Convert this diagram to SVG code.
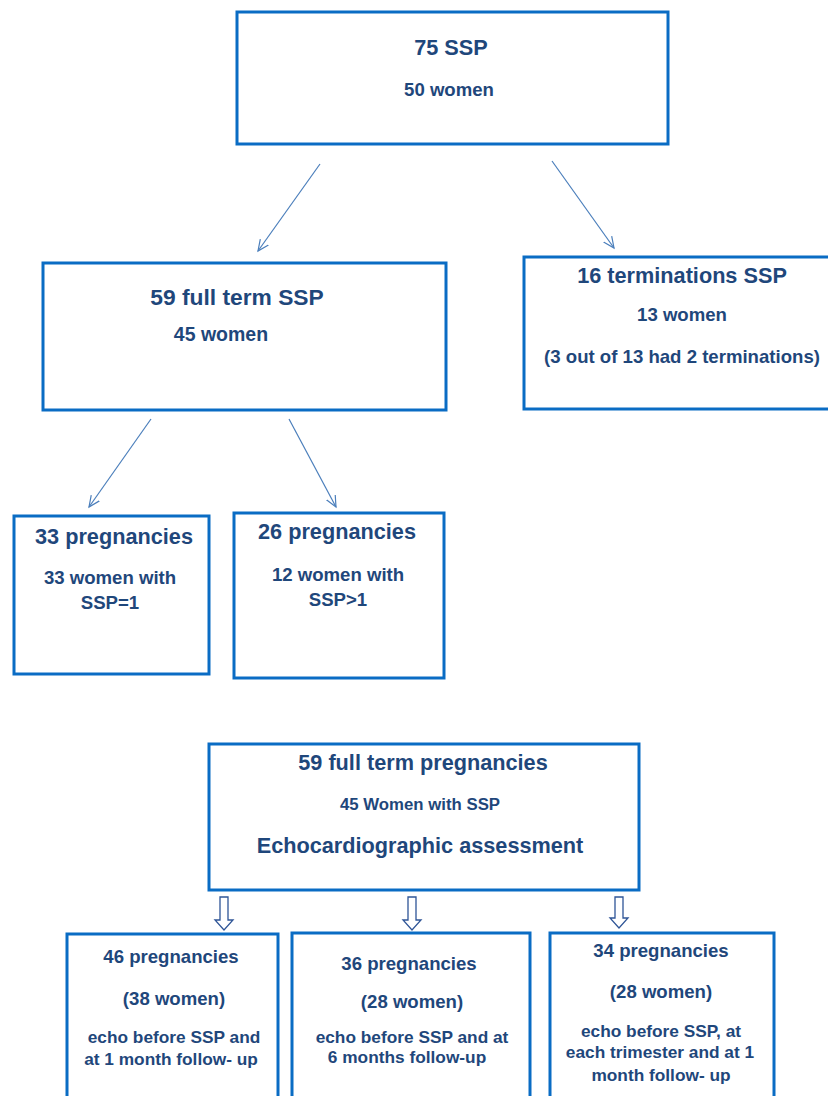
<svg xmlns="http://www.w3.org/2000/svg" width="828" height="1096" viewBox="0 0 828 1096">
<defs>
<style>
.box{fill:#ffffff;stroke:#0A6CC4;stroke-width:3}
.t{font-family:"Liberation Sans",Arial,sans-serif;font-weight:bold;fill:#1F477B;text-anchor:middle}
.h{font-size:21.7px}
.s{font-size:18.6px}
.b{font-size:17.3px}
.s2{font-size:16.8px}
.conn{stroke:#4A7EBB;stroke-width:1.2;fill:none}
.blk{fill:#ffffff;stroke:#2F5597;stroke-width:1.3}
</style>
<marker id="ah" markerUnits="userSpaceOnUse" markerWidth="14" markerHeight="14" refX="11" refY="6" orient="auto" viewBox="0 0 14 12">
<path d="M0,1 L11,6 L0,11" fill="none" stroke="#4A7EBB" stroke-width="1.2"/>
</marker>
</defs>
<rect width="828" height="1096" fill="#ffffff"/>

<g id="connectors">
<line class="conn" x1="320" y1="164" x2="258" y2="251" marker-end="url(#ah)"/>
<line class="conn" x1="552" y1="161" x2="614" y2="248" marker-end="url(#ah)"/>
<line class="conn" x1="151" y1="419" x2="89" y2="507" marker-end="url(#ah)"/>
<line class="conn" x1="289" y1="419" x2="336" y2="507" marker-end="url(#ah)"/>
<path class="blk" d="M220,897 H228 V920 H233 L224,930 L215,920 H220 Z"/>
<path class="blk" d="M408,897 H416 V920 H421 L412,930 L403,920 H408 Z"/>
<path class="blk" d="M615,897 H623 V918 H628 L619,928 L610,918 H615 Z"/>
</g>

<g id="n_75ssp">
<rect class="box" x="237" y="12" width="431" height="132"/>
<text class="t h" x="451" y="55">75 SSP</text>
<text class="t s" x="449" y="96">50 women</text>
</g>

<g id="n_fullterm">
<rect class="box" x="43" y="263" width="403" height="147"/>
<text class="t h" x="237" y="305" style="font-size:22.8px">59 full term SSP</text>
<text class="t s" x="221" y="341" style="font-size:19.5px">45 women</text>
</g>

<g id="n_terminations">
<rect class="box" x="524" y="257" width="320" height="152"/>
<text class="t h" x="682" y="283">16 terminations SSP</text>
<text class="t s" x="682" y="321">13 women</text>
<text class="t s" x="682" y="363">(3 out of 13 had 2 terminations)</text>
</g>

<g id="n_33preg">
<rect class="box" x="14" y="516" width="195" height="158"/>
<text class="t h" x="114" y="544">33 pregnancies</text>
<text class="t s" x="110" y="584">33 women with</text>
<text class="t s" x="110" y="609">SSP=1</text>
</g>

<g id="n_26preg">
<rect class="box" x="234" y="513" width="210" height="165"/>
<text class="t h" x="337" y="539">26 pregnancies</text>
<text class="t s" x="338" y="581">12 women with</text>
<text class="t s" x="338" y="606">SSP&gt;1</text>
</g>

<g id="n_59preg">
<rect class="box" x="209" y="744" width="430" height="146"/>
<text class="t h" x="423" y="770">59 full term pregnancies</text>
<text class="t s2" x="420" y="810">45 Women with SSP</text>
<text class="t h" x="420" y="853">Echocardiographic assessment</text>
</g>

<g id="n_46preg">
<rect class="box" x="67" y="934" width="211" height="180"/>
<text class="t s" x="171" y="963">46 pregnancies</text>
<text class="t s" x="174" y="1005">(38 women)</text>
<text class="t b" x="174" y="1043">echo before SSP and</text>
<text class="t b" x="171" y="1065">at 1 month follow- up</text>
</g>

<g id="n_36preg">
<rect class="box" x="292" y="933" width="238" height="180"/>
<text class="t s" x="409" y="970">36 pregnancies</text>
<text class="t s" x="412" y="1008">(28 women)</text>
<text class="t b" x="412" y="1043">echo before SSP and at</text>
<text class="t b" x="407" y="1063">6 months follow-up</text>
</g>

<g id="n_34preg">
<rect class="box" x="550" y="933" width="224" height="180"/>
<text class="t s" x="661" y="957">34 pregnancies</text>
<text class="t s" x="661" y="998">(28 women)</text>
<text class="t b" x="661" y="1037">echo before SSP, at</text>
<text class="t b" x="660" y="1058">each trimester and at 1</text>
<text class="t b" x="661" y="1081">month follow- up</text>
</g>
</svg>
